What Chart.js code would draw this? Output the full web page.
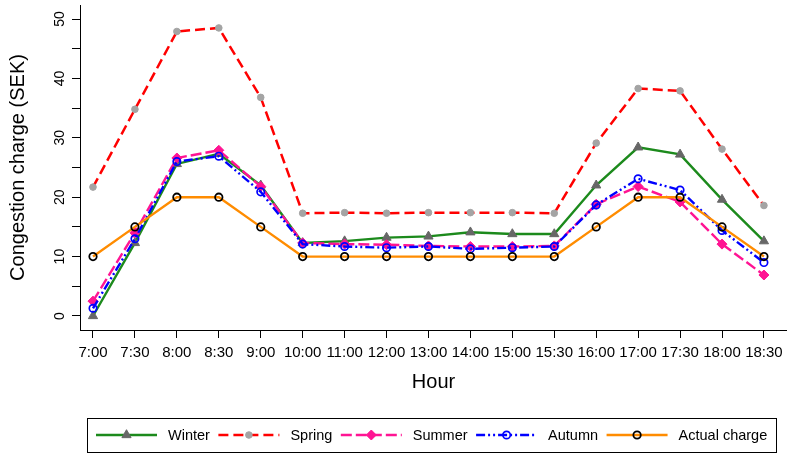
<!DOCTYPE html>
<html>
<head>
<meta charset="utf-8">
<title>Congestion charge by hour</title>
<script src="https://cdn.jsdelivr.net/npm/chart.js@4.4.1/dist/chart.umd.min.js"></script>
<style>
  html, body { margin: 0; padding: 0; background: #ffffff; }
  canvas { display: block; }
</style>
</head>
<body>
<canvas id="chart" width="787" height="459"></canvas>
<script>
// Time slots along the x axis
const hours = ['7:00', '7:30', '8:00', '8:30', '9:00', '10:00', '11:00', '12:00', '13:00',
               '14:00', '15:00', '15:30', '16:00', '17:00', '17:30', '18:00', '18:30'];

// Congestion charge per season (SEK)
const winter = [0.0, 12.3, 25.6, 27.3, 22.0, 12.3, 12.6, 13.2, 13.4, 14.1, 13.8, 13.8, 22.0, 28.4, 27.2, 19.6, 12.6];
const spring = [21.7, 34.8, 47.9, 48.5, 36.8, 17.3, 17.4, 17.3, 17.4, 17.4, 17.4, 17.3, 29.1, 38.3, 37.9, 28.1, 18.6];
const summer = [2.5, 14.0, 26.6, 27.9, 21.8, 12.3, 12.1, 12.0, 11.8, 11.7, 11.7, 11.8, 18.8, 21.8, 19.2, 12.1, 6.9];
const autumn = [1.3, 13.0, 26.0, 26.9, 20.9, 12.1, 11.7, 11.5, 11.7, 11.3, 11.5, 11.7, 18.7, 23.1, 21.2, 14.4, 9.0];
const actualCharge = [10, 15, 20, 20, 15, 10, 10, 10, 10, 10, 10, 10, 15, 20, 20, 15, 10];

// Axis ticks
const yTickMarks = [0, 5, 10, 15, 20, 25, 30, 35, 40, 45, 50];
const yTickLabels = [0, 10, 20, 30, 40, 50];

const FONT = "'Liberation Sans', Arial, Helvetica, sans-serif";
const CLEAR = 'rgba(0,0,0,0)';

function toPoints(values) {
  return values.map((v, i) => ({ x: i, y: v }));
}

const datasets = [
  {
    label: 'Winter', data: toPoints(winter), order: 5,
    borderColor: '#1c8a1c', borderWidth: 2.4, borderDash: [],
    pointStyle: 'triangle', pointRadius: 5.3,
    pointBackgroundColor: '#676767', pointBorderColor: '#676767', pointBorderWidth: 1
  },
  {
    label: 'Spring', data: toPoints(spring), order: 4,
    borderColor: '#ff0000', borderWidth: 2.5, borderDash: [10, 5],
    pointStyle: 'circle', pointRadius: 3.3,
    pointBackgroundColor: '#a4a4a4', pointBorderColor: '#a4a4a4', pointBorderWidth: 1
  },
  {
    label: 'Summer', data: toPoints(summer), order: 3,
    borderColor: '#ff1493', borderWidth: 2.4, borderDash: [11, 4],
    pointStyle: 'rectRot', pointRadius: 5,
    pointBackgroundColor: '#ff1493', pointBorderColor: '#ff1493', pointBorderWidth: 1
  },
  {
    label: 'Autumn', data: toPoints(autumn), order: 2,
    borderColor: '#0000ff', borderWidth: 2.4, borderDash: [9, 3, 2, 3, 2, 3],
    pointStyle: 'circle', pointRadius: 3.7,
    pointBackgroundColor: CLEAR, pointBorderColor: '#0000ff', pointBorderWidth: 1.7
  },
  {
    label: 'Actual charge', data: toPoints(actualCharge), order: 1,
    borderColor: '#ff8c00', borderWidth: 2.4, borderDash: [],
    pointStyle: 'circle', pointRadius: 3.7,
    pointBackgroundColor: CLEAR, pointBorderColor: '#000000', pointBorderWidth: 1.8
  }
];

// Small marker painter for the legend samples
function drawMarker(ctx, ds, x, y) {
  const r = ds.pointRadius;
  ctx.save();
  ctx.setLineDash([]);
  ctx.fillStyle = ds.pointBackgroundColor;
  ctx.strokeStyle = ds.pointBorderColor;
  ctx.lineWidth = ds.pointBorderWidth;
  ctx.beginPath();
  if (ds.pointStyle === 'triangle') {
    ctx.moveTo(x, y - r);
    ctx.lineTo(x + r * Math.sin(2 * Math.PI / 3), y - r * Math.cos(2 * Math.PI / 3));
    ctx.lineTo(x + r * Math.sin(4 * Math.PI / 3), y - r * Math.cos(4 * Math.PI / 3));
    ctx.closePath();
  } else if (ds.pointStyle === 'rectRot') {
    ctx.moveTo(x, y - r);
    ctx.lineTo(x + r, y);
    ctx.lineTo(x, y + r);
    ctx.lineTo(x - r, y);
    ctx.closePath();
  } else {
    ctx.arc(x, y, r, 0, Math.PI * 2);
  }
  ctx.fill();
  ctx.stroke();
  ctx.restore();
}

const whiteBackground = {
  id: 'whiteBackground',
  beforeDraw(chart) {
    const { ctx, width, height } = chart;
    ctx.save();
    ctx.fillStyle = '#ffffff';
    ctx.fillRect(0, 0, width, height);
    ctx.restore();
  }
};

// Value labels on the y axis, reading bottom-to-top
const verticalYLabels = {
  id: 'verticalYLabels',
  afterDraw(chart) {
    const ctx = chart.ctx;
    const ys = chart.scales.y;
    ctx.save();
    ctx.font = '14px ' + FONT;
    ctx.fillStyle = '#000000';
    ctx.textAlign = 'center';
    ctx.textBaseline = 'middle';
    yTickLabels.forEach(v => {
      ctx.save();
      ctx.translate(ys.right - 20, ys.getPixelForValue(v));
      ctx.rotate(-Math.PI / 2);
      ctx.fillText(String(v), 0, 0);
      ctx.restore();
    });
    ctx.restore();
  }
};

// Boxed legend underneath the plot with line + marker samples
const boxedLegend = {
  id: 'boxedLegend',
  afterDraw(chart) {
    const ctx = chart.ctx;
    const top = 418, bottom = 452, left = 87, right = 776;
    const y = (top + bottom) / 2;
    ctx.save();
    ctx.strokeStyle = '#000000';
    ctx.lineWidth = 1;
    ctx.setLineDash([]);
    ctx.strokeRect(left + 0.5, top + 0.5, right - left, bottom - top);
    ctx.font = '14.5px ' + FONT;
    ctx.fillStyle = '#000000';
    ctx.textAlign = 'left';
    ctx.textBaseline = 'middle';
    const sampleLen = 61, textGap = 11, itemGap = 8.5;
    let x = 96;
    chart.data.datasets.forEach(ds => {
      ctx.save();
      ctx.strokeStyle = ds.borderColor;
      ctx.lineWidth = ds.borderWidth;
      ctx.setLineDash(ds.borderDash || []);
      ctx.beginPath();
      ctx.moveTo(x, y);
      ctx.lineTo(x + sampleLen, y);
      ctx.stroke();
      ctx.restore();
      drawMarker(ctx, ds, x + sampleLen / 2, y);
      ctx.fillStyle = '#000000';
      ctx.fillText(ds.label, x + sampleLen + textGap, y + 1);
      x += sampleLen + textGap + ctx.measureText(ds.label).width + itemGap;
    });
    ctx.restore();
  }
};

new Chart(document.getElementById('chart'), {
  type: 'line',
  data: { datasets },
  options: {
    responsive: false,
    animation: false,
    devicePixelRatio: 1,
    layout: { autoPadding: false, padding: { left: 0, right: 0, top: 5, bottom: 64 } },
    elements: { line: { tension: 0 } },
    plugins: { legend: { display: false }, tooltip: { enabled: false } },
    scales: {
      x: {
        type: 'linear',
        min: -0.31,
        max: 16.55,
        afterBuildTicks(scale) { scale.ticks = hours.map((h, i) => ({ value: i })); },
        afterFit(scale) {
          scale.height = 65;
          scale.paddingLeft = 0;
          scale.paddingRight = 0;
        },
        ticks: {
          autoSkip: false, maxRotation: 0, minRotation: 0, padding: 6,
          color: '#000000', font: { family: FONT, size: 15 },
          callback: (value) => hours[value]
        },
        grid: {
          display: true, drawOnChartArea: false, drawTicks: true,
          tickLength: 8, color: '#000000', lineWidth: 1
        },
        border: { display: true, color: '#000000', width: 1 },
        title: {
          display: true, text: 'Hour', color: '#000000',
          font: { family: FONT, size: 20 }, padding: { top: 0, bottom: 1 }
        }
      },
      y: {
        type: 'linear',
        min: -2.36,
        max: 52.36,
        afterBuildTicks(scale) { scale.ticks = yTickMarks.map(v => ({ value: v })); },
        afterFit(scale) { scale.width = 80; },
        ticks: { display: false },
        grid: {
          display: true, drawOnChartArea: false, drawTicks: true,
          tickLength: 8, color: '#000000', lineWidth: 1
        },
        border: { display: true, color: '#000000', width: 1 },
        title: {
          display: true, text: 'Congestion charge (SEK)', color: '#000000',
          font: { family: FONT, size: 20 }, padding: { top: 6, bottom: 0 }
        }
      }
    }
  },
  plugins: [whiteBackground, verticalYLabels, boxedLegend]
});
</script>
</body>
</html>
